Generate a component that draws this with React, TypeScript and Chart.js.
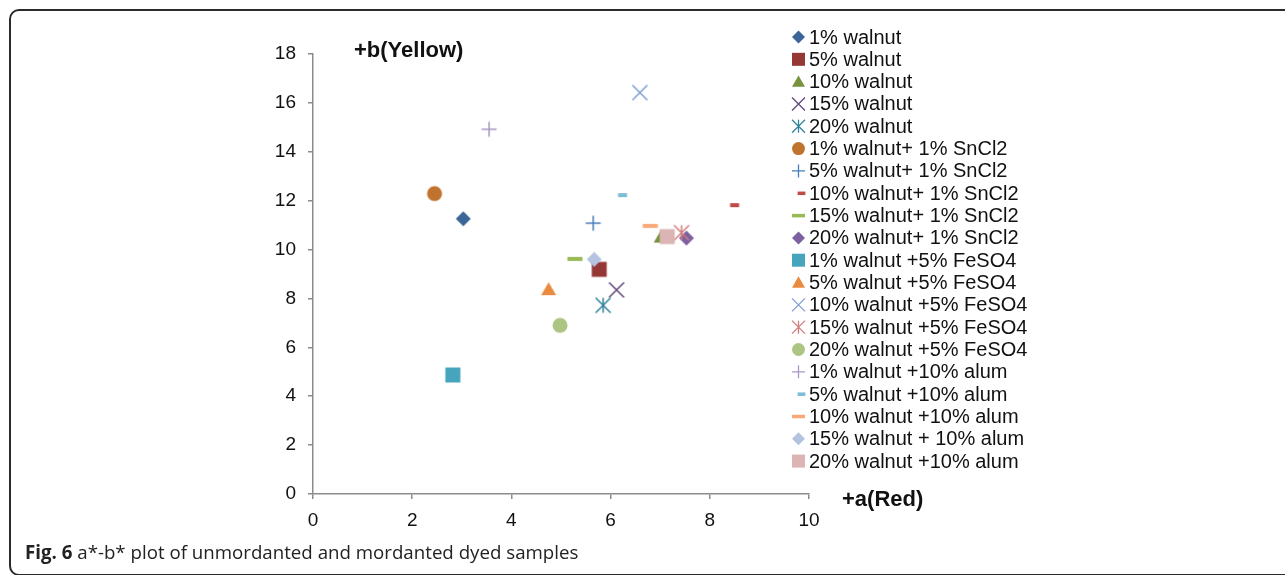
import React, { useEffect, useRef } from "react";
import { Chart, registerables } from "chart.js";

Chart.register(...registerables);

// ---------- data ----------
const seriesNames = [
  "1% walnut",
  "5% walnut",
  "10% walnut",
  "15% walnut",
  "20% walnut",
  "1% walnut+ 1% SnCl2",
  "5% walnut+ 1% SnCl2",
  "10% walnut+ 1% SnCl2",
  "15% walnut+ 1% SnCl2",
  "20% walnut+ 1% SnCl2",
  "1% walnut +5% FeSO4",
  "5% walnut +5% FeSO4",
  "10% walnut +5% FeSO4",
  "15% walnut +5% FeSO4",
  "20% walnut +5% FeSO4",
  "1% walnut +10% alum",
  "5% walnut +10% alum",
  "10% walnut +10% alum",
  "15% walnut + 10% alum",
  "20% walnut +10% alum",
];

// a* (Red) values
const aValues = [
  3.03, 5.77, 7.02, 6.12, 5.85,
  2.45, 5.65, 8.5, 5.28, 7.53,
  2.82, 4.75, 6.59, 7.43, 4.98,
  3.55, 6.24, 6.8, 5.67, 7.14,
];

// b* (Yellow) values
const bValues = [
  11.26, 9.19, 10.53, 8.35, 7.72,
  12.29, 11.08, 11.82, 9.62, 10.47,
  4.87, 8.38, 16.42, 10.69, 6.9,
  14.92, 12.23, 10.97, 9.6, 10.53,
];

const seriesColors = [
  "#3B6497", "#953735", "#77933C", "#604A7B", "#31859C",
  "#C0732F", "#4A7EBB", "#BE4B48", "#98B954", "#7D60A0",
  "#46A5BD", "#E98A3E", "#7F9FD3", "#D27D7B", "#ADC583",
  "#A898C4", "#7BBDD6", "#F9A877", "#B4C3DF", "#DCB4B4",
];

const markerTypes = [
  "diamond", "square", "triangle", "x", "asterisk",
  "circle", "plus", "shortdash", "dash", "diamond",
  "square", "triangle", "x", "asterisk", "circle",
  "plus", "shortdash", "dash", "diamond", "square",
];

const xTickValues = [0, 2, 4, 6, 8, 10];
const yTickValues = [0, 2, 4, 6, 8, 10, 12, 14, 16, 18];

const xTitle = "+a(Red)";
const yTitle = "+b(Yellow)";

// ---------- drawing helpers ----------
function drawMarker(
  ctx: CanvasRenderingContext2D,
  type: string,
  color: string,
  cx: number,
  cy: number,
  s: number
) {
  const h = s / 2;
  ctx.save();
  ctx.fillStyle = color;
  ctx.strokeStyle = color;
  ctx.lineCap = "butt";
  switch (type) {
    case "diamond":
      ctx.beginPath();
      ctx.moveTo(cx, cy - h);
      ctx.lineTo(cx + h, cy);
      ctx.lineTo(cx, cy + h);
      ctx.lineTo(cx - h, cy);
      ctx.closePath();
      ctx.fill();
      break;
    case "square":
      ctx.fillRect(cx - h, cy - h, s, s);
      break;
    case "triangle":
      ctx.beginPath();
      ctx.moveTo(cx, cy - h * 0.95);
      ctx.lineTo(cx + h, cy + h * 0.8);
      ctx.lineTo(cx - h, cy + h * 0.8);
      ctx.closePath();
      ctx.fill();
      break;
    case "circle":
      ctx.beginPath();
      ctx.arc(cx, cy, h, 0, Math.PI * 2);
      ctx.fill();
      break;
    case "x":
      ctx.lineWidth = Math.max(1.3, s / 10);
      ctx.beginPath();
      ctx.moveTo(cx - h, cy - h);
      ctx.lineTo(cx + h, cy + h);
      ctx.moveTo(cx + h, cy - h);
      ctx.lineTo(cx - h, cy + h);
      ctx.stroke();
      break;
    case "asterisk":
      ctx.lineWidth = Math.max(1.3, s / 10);
      ctx.beginPath();
      ctx.moveTo(cx - h, cy - h);
      ctx.lineTo(cx + h, cy + h);
      ctx.moveTo(cx + h, cy - h);
      ctx.lineTo(cx - h, cy + h);
      ctx.moveTo(cx, cy - h);
      ctx.lineTo(cx, cy + h);
      ctx.stroke();
      break;
    case "plus":
      ctx.lineWidth = Math.max(1.3, s / 10);
      ctx.beginPath();
      ctx.moveTo(cx - h, cy);
      ctx.lineTo(cx + h, cy);
      ctx.moveTo(cx, cy - h);
      ctx.lineTo(cx, cy + h);
      ctx.stroke();
      break;
    case "dash":
      ctx.fillRect(cx - h, cy - s * 0.13, s, s * 0.27);
      break;
    case "shortdash":
      ctx.fillRect(cx - s * 0.3, cy - s * 0.13, s * 0.6, s * 0.27);
      break;
  }
  ctx.restore();
}

function makePointCanvas(type: string, color: string, size: number) {
  const c = document.createElement("canvas");
  c.width = 24;
  c.height = 24;
  const ctx = c.getContext("2d") as CanvasRenderingContext2D;
  drawMarker(ctx, type, color, 12, 12, size);
  return c;
}

const FONT = '"Liberation Sans", Arial, Helvetica, sans-serif';

const overlayPlugin = {
  id: "overlayLegendTitles",
  afterDraw(chart: any) {
    const ctx: CanvasRenderingContext2D = chart.ctx;
    const area = chart.chartArea;
    ctx.save();
    // legend
    const legendTop = 37;
    const legendStep = 22.32;
    const markerX = 798.5;
    const textX = 809;
    ctx.font = "20px " + FONT;
    ctx.fillStyle = "#111";
    ctx.textBaseline = "middle";
    ctx.textAlign = "left";
    chart.data.datasets.forEach((ds: any, i: number) => {
      const y = legendTop + i * legendStep;
      const t = markerTypes[i];
      const mx = t === "shortdash" ? markerX + 3 : markerX;
      drawMarker(ctx, t, seriesColors[i], mx, y, 13);
      ctx.fillText(ds.label, textX, y + 1);
    });
    // axis titles
    ctx.font = "bold 22px " + FONT;
    ctx.textBaseline = "alphabetic";
    ctx.fillText(yTitle, area.left + 41, area.top + 3);
    ctx.fillText(xTitle, area.right + 33, area.bottom + 12);
    ctx.restore();
  },
};

export default function App() {
  const canvasRef = useRef<HTMLCanvasElement | null>(null);

  useEffect(() => {
    if (!canvasRef.current) return;
    const datasets = seriesNames.map((name, i) => ({
      label: name,
      data: [{ x: aValues[i], y: bValues[i] }],
      pointStyle: makePointCanvas(markerTypes[i], seriesColors[i], 15),
      pointRadius: 7,
      backgroundColor: seriesColors[i],
      borderColor: seriesColors[i],
      order: -i,
    }));

    const tickFont = { family: FONT, size: 19 };

    const chart = new Chart(canvasRef.current, {
      type: "scatter",
      data: { datasets },
      options: {
        animation: false,
        responsive: true,
        maintainAspectRatio: false,
        events: [],
        layout: { padding: { top: 54, right: 476, left: 0, bottom: 0 } },
        plugins: {
          legend: { display: false },
          tooltip: { enabled: false },
        },
        scales: {
          x: {
            type: "linear",
            min: 0,
            max: 10,
            afterBuildTicks: (s: any) => {
              s.ticks = xTickValues.map((v) => ({ value: v }));
            },
            afterFit: (s: any) => {
              s.height = 81;
            },
            ticks: { font: tickFont, color: "#111", padding: 10, maxRotation: 0 },
            grid: {
              drawOnChartArea: false,
              drawTicks: true,
              tickLength: 5,
              color: "#8c8c8c",
              lineWidth: 1.5,
            },
            border: { display: true, color: "#8c8c8c", width: 1.5 },
          },
          y: {
            type: "linear",
            min: 0,
            max: 18,
            afterBuildTicks: (s: any) => {
              s.ticks = yTickValues.map((v) => ({ value: v }));
            },
            afterFit: (s: any) => {
              s.width = 313;
            },
            ticks: { font: tickFont, color: "#111", padding: 12 },
            grid: {
              drawOnChartArea: false,
              drawTicks: true,
              tickLength: 5,
              color: "#8c8c8c",
              lineWidth: 1.5,
            },
            border: { display: true, color: "#8c8c8c", width: 1.5 },
          },
        },
      },
      plugins: [overlayPlugin],
    } as any);

    return () => {
      chart.destroy();
    };
  }, []);

  return (
    <div
      style={{
        position: "fixed",
        left: 0,
        top: 0,
        width: 1285,
        height: 575,
        overflow: "hidden",
        background: "#fff",
      }}
    >
      <div style={{ position: "absolute", left: 0, top: 0, width: 1285, height: 575 }}>
        <canvas ref={canvasRef} />
      </div>
      <div
        style={{
          position: "absolute",
          left: 9,
          top: 9,
          width: 1320,
          height: 567,
          boxSizing: "border-box",
          border: "2px solid #2b2b2b",
          borderRadius: 10,
          pointerEvents: "none",
        }}
      />
      <div
        style={{
          position: "absolute",
          left: 25,
          top: 543,
          fontFamily: '"Open Sans", "Noto Sans", sans-serif',
          fontSize: 18.7,
          lineHeight: "18px",
          color: "#222",
          whiteSpace: "nowrap",
        }}
      >
        <b>Fig. 6</b> a*-b* plot of unmordanted and mordanted dyed samples
      </div>
    </div>
  );
}
